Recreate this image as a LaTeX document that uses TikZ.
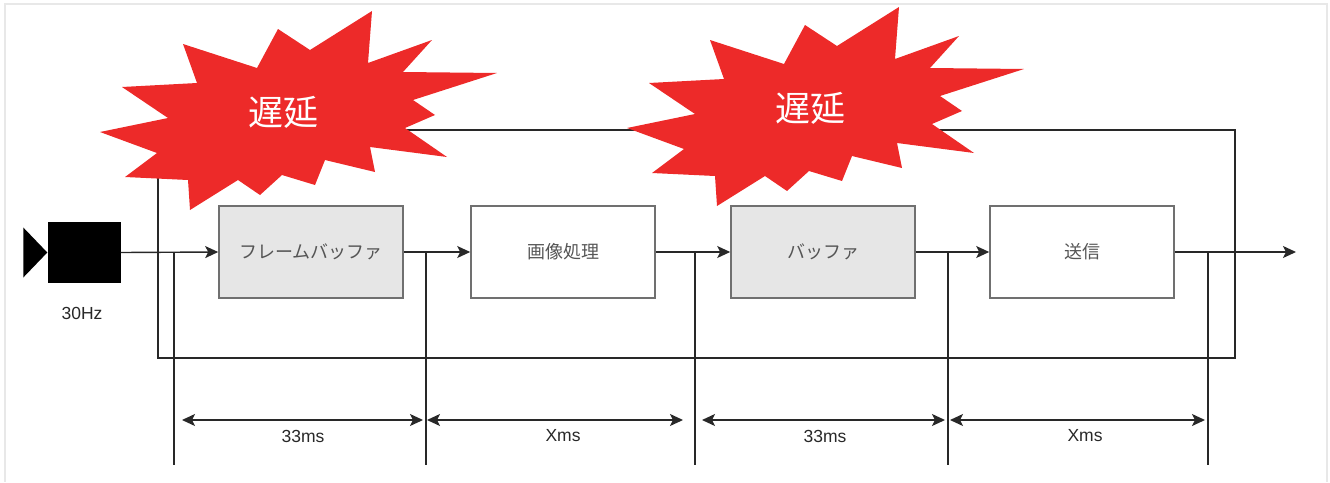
\documentclass[tikz,border=0pt]{standalone}
\usepackage{fontspec}
\setmainfont{Liberation Sans}
\newfontfamily\jpfont{Noto Sans CJK JP}
\usetikzlibrary{arrows.meta}
\definecolor{lnblack}{RGB}{40,40,40}
\definecolor{boxgray}{RGB}{230,230,230}
\definecolor{boxedge}{RGB}{112,112,112}
\definecolor{txtgray}{RGB}{85,85,85}
\definecolor{burstred}{RGB}{237,42,41}
\definecolor{framegray}{RGB}{232,232,232}

\begin{document}
\begin{tikzpicture}[x=1pt, y=-1pt,
  stage/.style={draw=boxedge, line width=1.6pt, minimum width=184pt, minimum height=92pt,
    inner sep=0pt, text=txtgray, font=\jpfont\fontsize{18}{20}\selectfont},
  buffer/.style={stage, fill=boxgray},
  wire/.style={draw=lnblack, line width=1.4pt},
  flow/.style={wire, -{Stealth[length=13pt, width=12pt, inset=3pt]}},
  span/.style={wire, {Stealth[length=13pt, width=12pt, inset=3pt]}-{Stealth[length=13pt, width=12pt, inset=3pt]}},
  ms/.style={text=lnblack, font=\fontsize{17.5}{19}\selectfont}]
\useasboundingbox (0,0) rectangle (1330,482);

% Page frame
\draw[framegray, line width=2pt] (5,482) -- (5,4) -- (1327,4) -- (1327,482);

% Loop around the pipeline
\draw[wire] (158,130) rectangle (1235,358);

% Delay bursts
\foreach \dx/\dy/\nm in {0/0/delayA, 527/-4/delayB} {
  \fill[burstred, shift={(\dx,\dy)}] (372,11) -- (368,63) -- (432,40) -- (403,72) -- (497,73)
    -- (413,100) -- (435,115) -- (405,128) -- (447,157) -- (370,147) -- (375,172)
    -- (325,160) -- (315,185) -- (282,175) -- (260,195) -- (238,180) -- (190,210)
    -- (188,180) -- (125,177) -- (157,153) -- (100,132) -- (168,118) -- (122,87)
    -- (197,83) -- (183,44) -- (257,68) -- (278,29) -- (310,50) -- cycle;
  \node[text=white, font=\jpfont\fontsize{35}{38}\selectfont] (\nm) at ({283+\dx},{112+\dy}) {遅延};
}

% Camera
\node[fill=black, minimum width=73pt, minimum height=61pt, inner sep=0pt] (cam) at (84,252.5) {};
\fill (cam.west) -- ++(-24,-25) -- ++(0,50) -- cycle;
\node[ms] (rate) at (82,313) {30Hz};

% Pipeline boxes
\node[buffer] (frame) at (311,252) {フレームバッファ};
\node[stage] (proc) at (563,252) {画像処理};
\node[buffer] (buf) at (823,252) {バッファ};
\node[stage] (send) at (1082,252) {送信};
\coordinate (out) at (1296,252);

% Arrows
\draw[flow] (cam.east) -- (frame.west);
\draw[flow] (frame.east) -- (proc.west);
\draw[flow] (proc.east) -- (buf.west);
\draw[flow] (buf.east) -- (send.west);
\draw[flow] (send.east) -- (out);

% Timing ticks
\coordinate (t1) at (174,252);
\coordinate (t2) at (426,252);
\coordinate (t3) at (695,252);
\coordinate (t4) at (948,252);
\coordinate (t5) at (1208,252);
\foreach \t in {t1,t2,t3,t4,t5}
  \draw[wire] (\t) -- ++(0,213);

% Durations
\foreach \t in {1,...,5}
  \coordinate (d\t) at ([yshift=-168pt]t\t);
\draw[span, shorten <=8pt, shorten >=3pt] (d1) -- (d2);
\draw[span, shorten <=1pt, shorten >=12pt] (d2) -- (d3);
\draw[span, shorten <=7pt, shorten >=3pt] (d3) -- (d4);
\draw[span, shorten <=2pt, shorten >=3pt] (d4) -- (d5);
\node[ms] (dur1) at (303,436) {33ms};
\node[ms] (dur2) at (563,436) {Xms};
\node[ms] (dur3) at (825,436) {33ms};
\node[ms] (dur4) at (1085,436) {Xms};
\end{tikzpicture}
\end{document}
